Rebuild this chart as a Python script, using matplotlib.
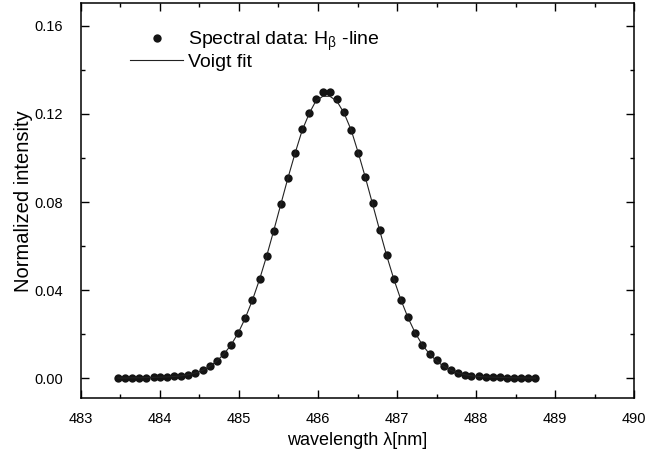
import numpy as np
import matplotlib
matplotlib.use("Agg")
import matplotlib.pyplot as plt
from matplotlib.ticker import MultipleLocator

plt.rcParams['font.family'] = ['Liberation Sans', 'DejaVu Sans']
plt.rcParams['mathtext.fontset'] = 'custom'
plt.rcParams['mathtext.rm'] = 'Liberation Sans'
plt.rcParams['mathtext.it'] = 'Liberation Sans'

# wavelength of the measured points (nm)
wl = [483.47, 483.56, 483.65, 483.74, 483.83, 483.92, 484.00, 484.09, 484.18, 484.27,
      484.36, 484.45, 484.54, 484.63, 484.72, 484.81, 484.90, 484.99, 485.08, 485.17,
      485.26, 485.35, 485.44, 485.53, 485.62, 485.71, 485.80, 485.89, 485.97, 486.06,
      486.15, 486.24, 486.33, 486.42, 486.51, 486.60, 486.69, 486.78, 486.87, 486.96,
      487.05, 487.14, 487.23, 487.32, 487.41, 487.50, 487.59, 487.68, 487.77, 487.86,
      487.94, 488.03, 488.12, 488.21, 488.30, 488.39, 488.48, 488.57, 488.66, 488.75]

intensity = [0.0003, 0.0003, 0.0003, 0.0003, 0.0004, 0.0005, 0.0006, 0.0007, 0.0009, 0.0012,
             0.0016, 0.0025, 0.0038, 0.0056, 0.0080, 0.0112, 0.0152, 0.0207, 0.0275, 0.0355,
             0.0449, 0.0554, 0.0670, 0.0790, 0.0909, 0.1022, 0.1130, 0.1205, 0.1268, 0.1298,
             0.1298, 0.1268, 0.1210, 0.1127, 0.1024, 0.0913, 0.0795, 0.0673, 0.0558, 0.0452,
             0.0358, 0.0277, 0.0207, 0.0154, 0.0112, 0.0082, 0.0056, 0.0038, 0.0025, 0.0017,
             0.0012, 0.0009, 0.0007, 0.0006, 0.0005, 0.0004, 0.0003, 0.0003, 0.0003, 0.0003]

# voigt fit evaluated at the same wavelengths
fit = [0.0002, 0.0002, 0.0003, 0.0003, 0.0004, 0.0005, 0.0006, 0.0007, 0.0009, 0.0012,
       0.0017, 0.0025, 0.0037, 0.0055, 0.0079, 0.0111, 0.0152, 0.0206, 0.0274, 0.0355,
       0.0449, 0.0555, 0.0671, 0.0791, 0.0910, 0.1022, 0.1126, 0.1203, 0.1257, 0.1280,
       0.1280, 0.1257, 0.1203, 0.1126, 0.1022, 0.0910, 0.0791, 0.0671, 0.0555, 0.0449,
       0.0355, 0.0274, 0.0206, 0.0152, 0.0111, 0.0079, 0.0055, 0.0037, 0.0025, 0.0017,
       0.0012, 0.0009, 0.0007, 0.0006, 0.0005, 0.0004, 0.0003, 0.0003, 0.0002, 0.0002]

fig = plt.figure(figsize=(6.47, 4.63), dpi=100)
ax = fig.add_axes([0.1249, 0.1397, 0.8555, 0.8538])

ax.plot(wl, intensity, 'o', color='#141414', markersize=6.0, markeredgewidth=0,
        label=r'Spectral data: H$_{\beta}$ -line')
ax.plot(wl, fit, '-', color='#222222', linewidth=0.8, label='Voigt fit')

ax.set_xlim(483, 490)
ax.set_ylim(-0.009, 0.1703)
ax.xaxis.set_major_locator(MultipleLocator(1))
ax.xaxis.set_minor_locator(MultipleLocator(0.5))
ax.yaxis.set_major_locator(MultipleLocator(0.04))
ax.yaxis.set_minor_locator(MultipleLocator(0.02))
ax.yaxis.set_major_formatter(plt.FormatStrFormatter('%.2f'))
ax.tick_params(which='both', direction='in', top=True, right=True, labelsize=10.5, width=1.0)
ax.tick_params(which='major', length=5.5)
ax.tick_params(which='minor', length=3)
ax.tick_params(axis='x', pad=10)
ax.tick_params(axis='y', pad=13)
for s in ax.spines.values():
    s.set_linewidth(1.1)

ax.set_xlabel('wavelength λ[nm]', fontsize=13)
ax.set_ylabel('Normalized intensity', fontsize=14.5)
ax.xaxis.set_label_coords(0.5, -0.1055)
ax.xaxis.label.set_va('center')
ax.yaxis.set_label_coords(-0.104, 0.5)
ax.yaxis.label.set_va('center')

ax.legend(loc='upper left', bbox_to_anchor=(0.0889, 0.932), frameon=False, fontsize=14,
          borderpad=0, borderaxespad=0, handlelength=2.73, handletextpad=0.26,
          labelspacing=0.0, numpoints=1)

fig.savefig('out.png', dpi=100)
